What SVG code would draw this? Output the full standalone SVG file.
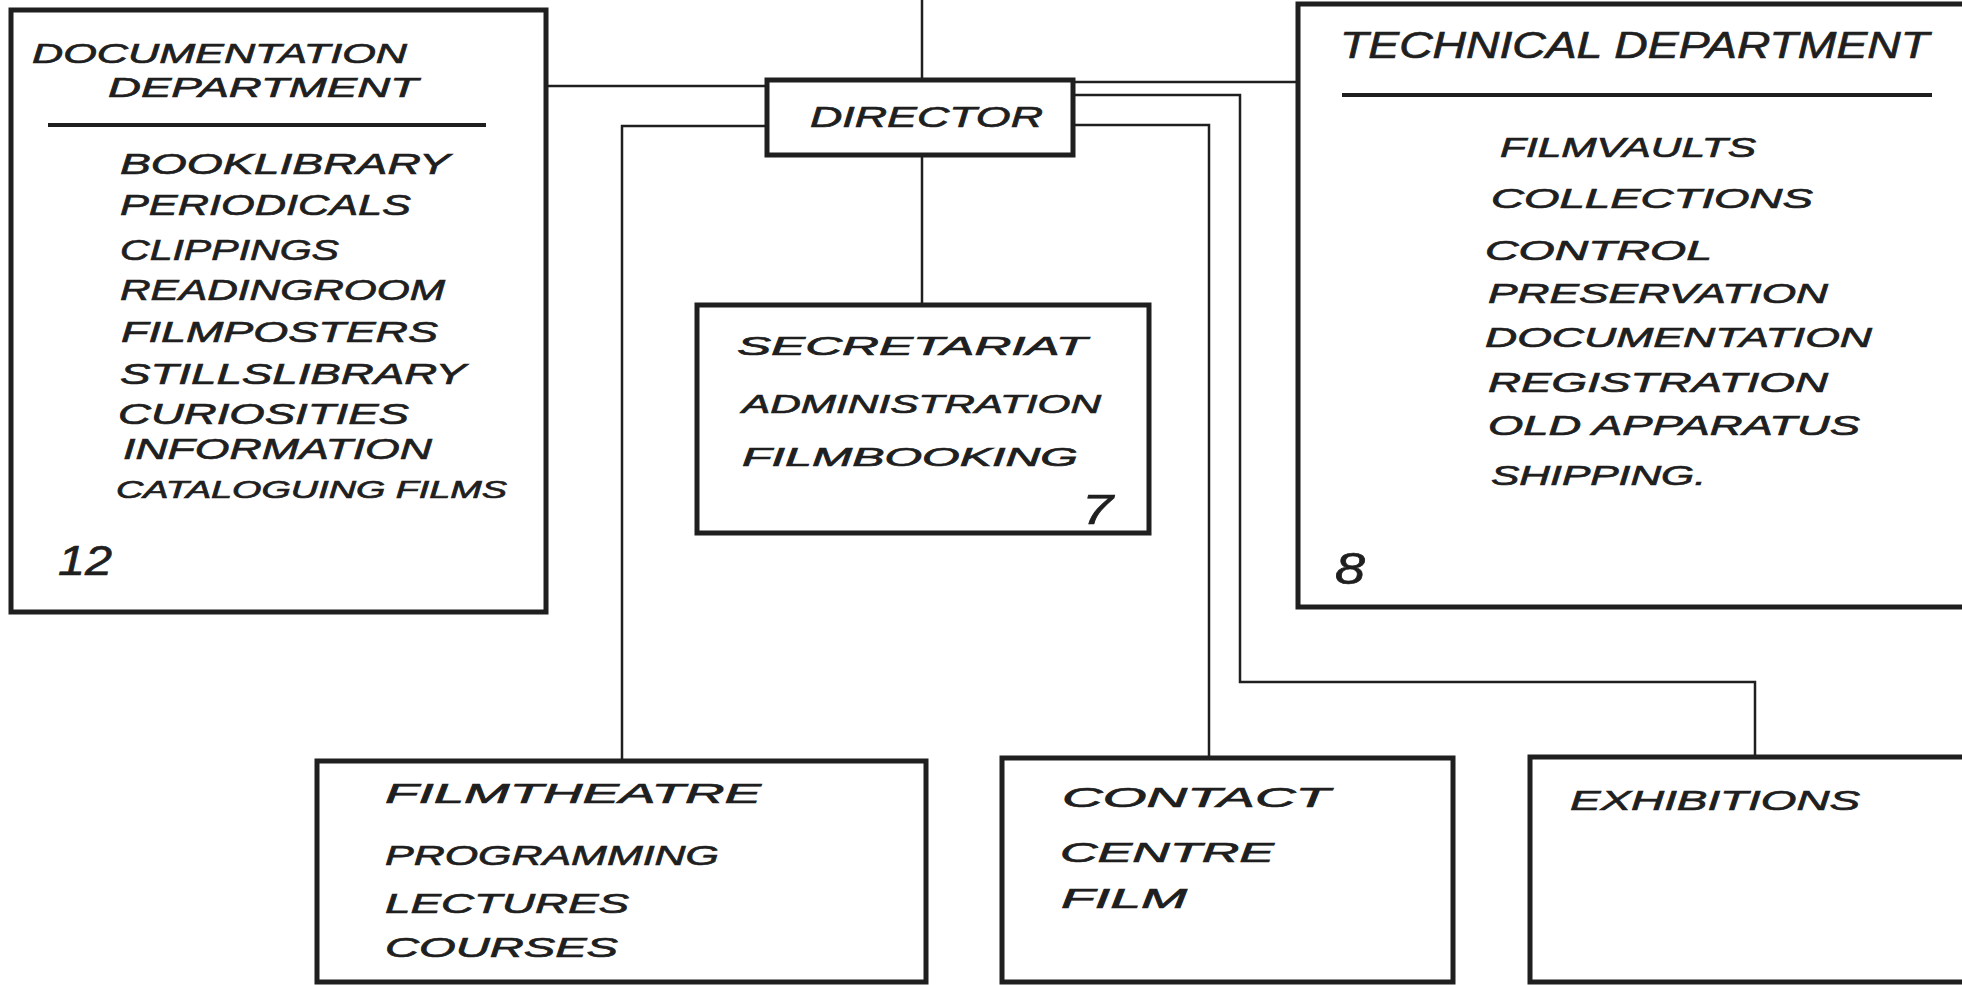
<svg xmlns="http://www.w3.org/2000/svg" width="1962" height="985" viewBox="0 0 1962 985">
<style>
.bg{fill:#ffffff}
.box{fill:#ffffff;stroke:#1f1f1f;stroke-width:5}
.rule{stroke:#1f1f1f;stroke-width:4;fill:none}
.conn{stroke:#1f1f1f;stroke-width:2.5;fill:none}
text{font-family:"Liberation Sans","DejaVu Sans",sans-serif;font-style:italic;fill:#1f1f1f;stroke:#1f1f1f;stroke-width:0.7;font-weight:normal}
.t30{font-size:30px}
.t28{font-size:28px}
.t27{font-size:27px}
.t26{font-size:26px}
.t24{font-size:24px}
.num{font-size:42px}
</style>
<rect class="bg" x="0" y="0" width="1962" height="985"/>
<g id="connectors">
<path class="conn" d="M922,0 V80"/>
<path class="conn" d="M546,86 H767"/>
<path class="conn" d="M1073,82 H1298"/>
<path class="conn" d="M1073,95 H1240 V682 H1755 V757"/>
<path class="conn" d="M1073,125 H1209 V758"/>
<path class="conn" d="M767,126 H622 V761"/>
<path class="conn" d="M922,155 V305"/>
</g>
<g id="documentation">
<rect class="box" x="11" y="10" width="535" height="602"/>
<text class="t28" x="32" y="63" textLength="375" lengthAdjust="spacingAndGlyphs">DOCUMENTATION</text>
<text class="t28" x="108" y="97" textLength="310" lengthAdjust="spacingAndGlyphs">DEPARTMENT</text>
<line class="rule" x1="48" y1="125" x2="486" y2="125"/>
<text class="t30" x="120" y="174" textLength="330" lengthAdjust="spacingAndGlyphs">BOOKLIBRARY</text>
<text class="t30" x="120" y="215" textLength="291" lengthAdjust="spacingAndGlyphs">PERIODICALS</text>
<text class="t30" x="120" y="260" textLength="219" lengthAdjust="spacingAndGlyphs">CLIPPINGS</text>
<text class="t30" x="120" y="300" textLength="325" lengthAdjust="spacingAndGlyphs">READINGROOM</text>
<text class="t30" x="121" y="342" textLength="317" lengthAdjust="spacingAndGlyphs">FILMPOSTERS</text>
<text class="t30" x="120" y="384" textLength="346" lengthAdjust="spacingAndGlyphs">STILLSLIBRARY</text>
<text class="t30" x="118" y="424" textLength="291" lengthAdjust="spacingAndGlyphs">CURIOSITIES</text>
<text class="t30" x="123" y="459" textLength="309" lengthAdjust="spacingAndGlyphs">INFORMATION</text>
<text class="t24" x="116" y="498" textLength="391" lengthAdjust="spacingAndGlyphs">CATALOGUING FILMS</text>
<text class="num" x="58" y="575" textLength="54" lengthAdjust="spacingAndGlyphs">12</text>
</g>
<g id="director">
<rect class="box" x="767" y="80" width="306" height="75"/>
<text class="t30" x="810" y="127" textLength="233" lengthAdjust="spacingAndGlyphs">DIRECTOR</text>
</g>
<g id="secretariat">
<rect class="box" x="697" y="305" width="452" height="228"/>
<text class="t26" x="737" y="355" textLength="350" lengthAdjust="spacingAndGlyphs">SECRETARIAT</text>
<text class="t26" x="742" y="413" textLength="359" lengthAdjust="spacingAndGlyphs">ADMINISTRATION</text>
<text class="t26" x="742" y="466" textLength="336" lengthAdjust="spacingAndGlyphs">FILMBOOKING</text>
<text class="num" x="1082" y="524" textLength="31" lengthAdjust="spacingAndGlyphs">7</text>
</g>
<g id="technical">
<rect class="box" x="1298" y="4" width="700" height="603"/>
<text class="t30" x="1340" y="58" textLength="589" lengthAdjust="spacingAndGlyphs" style="font-size:36px">TECHNICAL DEPARTMENT</text>
<line class="rule" x1="1342" y1="95" x2="1932" y2="95"/>
<text class="t27" x="1500" y="157" textLength="256" lengthAdjust="spacingAndGlyphs">FILMVAULTS</text>
<text class="t27" x="1491" y="208" textLength="322" lengthAdjust="spacingAndGlyphs">COLLECTIONS</text>
<text class="t27" x="1485" y="260" textLength="227" lengthAdjust="spacingAndGlyphs">CONTROL</text>
<text class="t27" x="1488" y="303" textLength="340" lengthAdjust="spacingAndGlyphs">PRESERVATION</text>
<text class="t27" x="1485" y="347" textLength="387" lengthAdjust="spacingAndGlyphs">DOCUMENTATION</text>
<text class="t27" x="1488" y="392" textLength="340" lengthAdjust="spacingAndGlyphs">REGISTRATION</text>
<text class="t27" x="1488" y="435" textLength="372" lengthAdjust="spacingAndGlyphs">OLD APPARATUS</text>
<text class="t27" x="1491" y="485" textLength="215" lengthAdjust="spacingAndGlyphs">SHIPPING.</text>
<text class="num" x="1335" y="584" textLength="30" lengthAdjust="spacingAndGlyphs" style="font-size:44px">8</text>
</g>
<g id="filmtheatre">
<rect class="box" x="317" y="761" width="609" height="221"/>
<text class="t28" x="385" y="803" textLength="376" lengthAdjust="spacingAndGlyphs">FILMTHEATRE</text>
<text class="t28" x="385" y="865" textLength="334" lengthAdjust="spacingAndGlyphs">PROGRAMMING</text>
<text class="t28" x="385" y="913" textLength="244" lengthAdjust="spacingAndGlyphs">LECTURES</text>
<text class="t28" x="385" y="957" textLength="233" lengthAdjust="spacingAndGlyphs">COURSES</text>
</g>
<g id="contact">
<rect class="box" x="1002" y="758" width="451" height="224"/>
<text class="t28" x="1062" y="807" textLength="268" lengthAdjust="spacingAndGlyphs">CONTACT</text>
<text class="t28" x="1060" y="862" textLength="214" lengthAdjust="spacingAndGlyphs">CENTRE</text>
<text class="t28" x="1061" y="908" textLength="126" lengthAdjust="spacingAndGlyphs">FILM</text>
</g>
<g id="exhibitions">
<rect class="box" x="1530" y="757" width="460" height="225"/>
<text class="t28" x="1570" y="810" textLength="290" lengthAdjust="spacingAndGlyphs">EXHIBITIONS</text>
</g>
</svg>
